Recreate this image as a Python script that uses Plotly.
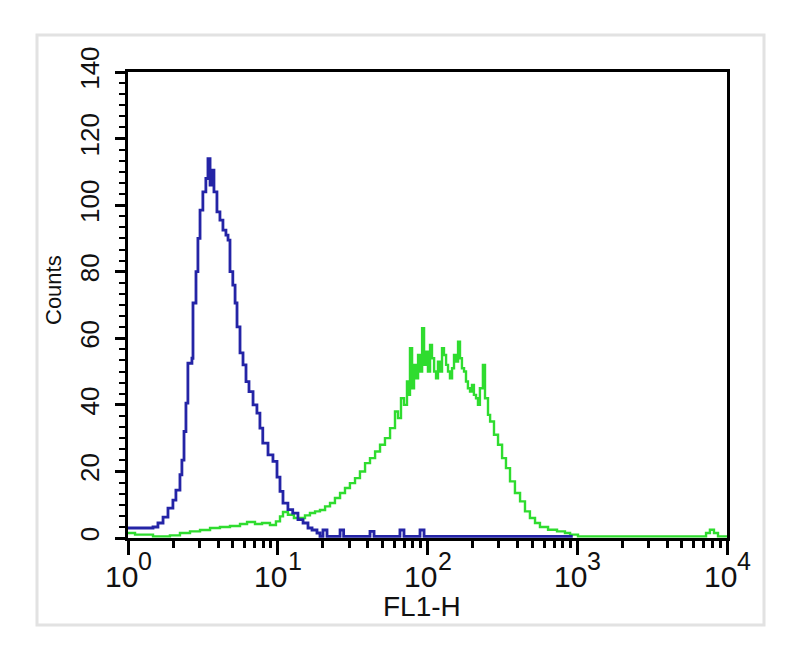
import plotly.graph_objects as go

# ---- data (log10 of FL1-H, counts) ----
blue_log = [0.0, 0.047, 0.10, 0.167, 0.20, 0.234, 0.267, 0.30, 0.32, 0.347, 0.36, 0.374, 0.387,
            0.40, 0.427, 0.434, 0.454, 0.467, 0.481, 0.50, 0.52, 0.534, 0.548, 0.561, 0.574,
            0.594, 0.614, 0.634, 0.654, 0.668, 0.681, 0.70, 0.715, 0.728, 0.748, 0.768, 0.788,
            0.808, 0.835, 0.861, 0.881, 0.90, 0.935, 0.968, 0.995, 1.015, 1.035, 1.068, 1.10,
            1.135, 1.169, 1.202, 1.229, 1.262, 1.282, 1.302, 1.329, 1.416, 1.44, 1.616, 1.643,
            1.816, 1.843, 1.95, 1.977, 2.15, 2.484, 2.97]
blue_counts = [3, 3, 3, 3.3, 4.5, 6.3, 9, 11.4, 14.4, 19, 23.4, 32, 40.5,
               52.5, 54, 70.6, 80, 90, 98.5, 104, 108, 114, 106, 110.5, 104,
               98, 95.5, 92.5, 91, 89.5, 80, 76, 70.6, 63.4, 55.6, 52, 47,
               44, 40, 37.5, 33, 28.5, 25, 23, 18.3, 14, 10.5, 8.5, 7.5,
               5.5, 4.5, 3, 2.4, 1.5, 0.5, 2.4, 0.5, 2.4, 0.5, 2.0, 0.5,
               2.4, 0.5, 2.4, 0.5, 0.5, 0.5, 0.5]

green_log = [0.0, 0.047, 0.167, 0.28, 0.347, 0.414, 0.481, 0.548, 0.614, 0.681, 0.748, 0.795,
             0.848, 0.895, 0.948, 0.988, 1.015, 1.035, 1.068, 1.108, 1.149, 1.182, 1.215, 1.249,
             1.282, 1.316, 1.349, 1.382, 1.416, 1.449, 1.482, 1.516, 1.549, 1.583, 1.616, 1.65,
             1.683, 1.716, 1.75, 1.783, 1.803, 1.823, 1.843, 1.863, 1.877, 1.883, 1.897, 1.91,
             1.923, 1.937, 1.95, 1.964, 1.977, 1.99, 2.003, 2.017, 2.03, 2.044, 2.057, 2.07,
             2.084, 2.097, 2.11, 2.124, 2.137, 2.15, 2.164, 2.177, 2.19, 2.204, 2.217, 2.23,
             2.244, 2.257, 2.27, 2.284, 2.297, 2.31, 2.324, 2.337, 2.35, 2.37, 2.384, 2.404,
             2.418, 2.444, 2.471, 2.498, 2.524, 2.551, 2.584, 2.618, 2.651, 2.684, 2.718, 2.751,
             2.805, 2.865, 2.918, 2.952, 3.005, 3.152, 3.486, 3.82, 3.86, 3.886, 3.913, 3.94, 4.0]
green_counts = [1.5, 1.0, 0.5, 0.8, 1.5, 2, 2.4, 3, 3.3, 3.6, 4.2, 4.8,
                4.2, 4.5, 3.9, 5, 6.5, 7.8, 7, 6, 6, 6.8, 7.5, 8,
                8.4, 9.5, 10.5, 12, 13.5, 15, 16.5, 18, 20, 22.5, 24, 26,
                28, 30, 33, 38, 36, 42, 40, 47, 43, 57, 45, 52,
                48, 55, 50, 63, 52, 56, 50, 58, 54, 50, 48, 53,
                50, 57, 55, 52, 50, 48, 51, 55, 53, 59, 54, 51,
                50, 47, 45, 44, 46, 43, 42, 40, 45, 52, 42, 37,
                35, 31, 28, 24, 21, 17, 13.5, 11, 8, 6, 4.5, 3.3,
                2.5, 2, 1.5, 1, 0.5, 0.5, 0.5, 0.5, 1.5, 2.5, 1.5, 0.5, 0.5]

y_ticks = [0, 20, 40, 60, 80, 100, 120, 140]
x_decades = [0, 1, 2, 3, 4]
x_base_text = "10"
x_exp_text = ["0", "1", "2", "3", "4"]
x_minor = [m * 10 ** d for d in range(4) for m in range(2, 10)]

fig = go.Figure()
fig.add_trace(go.Scatter(x=[10 ** v for v in green_log], y=green_counts, mode="lines",
                         line=dict(color="#2fdc2f", width=2.4, shape="hv"), showlegend=False))
fig.add_trace(go.Scatter(x=[10 ** v for v in blue_log], y=blue_counts, mode="lines",
                         line=dict(color="#2424a6", width=2.8, shape="hv"), showlegend=False))

font_family = "Liberation Sans, Arial, sans-serif"
PW, PH = 599, 466  # plot area size in px

annotations = [
    dict(text="Counts", x=(53 - 128) / PW, y=(538 - 290) / PH, xref="paper", yref="paper",
         xanchor="center", yanchor="middle", textangle=-90, showarrow=False,
         font=dict(size=22, color="#111111")),
    dict(text="FL1-H", x=(422 - 128) / PW, y=(538 - 606) / PH, xref="paper", yref="paper",
         xanchor="center", yanchor="middle", showarrow=False, font=dict(size=28, color="#111111")),
]
for d, e in zip(x_decades, x_exp_text):
    annotations.append(dict(text=x_base_text, x=d, xref="x", y=(538 - 576) / PH, yref="paper",
                            xanchor="center", yanchor="middle", xshift=-7, showarrow=False,
                            font=dict(size=30, color="#111111")))
    annotations.append(dict(text=e, x=d, xref="x", y=(538 - 561) / PH, yref="paper",
                            xanchor="center", yanchor="middle", xshift=17, showarrow=False,
                            font=dict(size=25, color="#111111")))

fig.update_layout(
    width=800, height=656,
    margin=dict(l=120, r=81, t=64, b=126),
    paper_bgcolor="white", plot_bgcolor="white",
    font=dict(family=font_family, color="#111111"),
    xaxis=dict(type="log", range=[0, 4], tickmode="array", tickvals=[10 ** d for d in x_decades],
               showticklabels=False,
               ticks="outside", ticklen=14, tickwidth=2.5, tickcolor="black",
               showline=True, linecolor="black", linewidth=2.5, mirror=True,
               showgrid=False, zeroline=False,
               minor=dict(tickmode="array", tickvals=x_minor, ticks="outside", ticklen=7,
                          tickwidth=2.5, tickcolor="black", showgrid=False)),
    yaxis=dict(range=[0, 140], tickmode="array", tickvals=y_ticks, tickangle=-90,
               ticks="outside", ticklen=10, tickwidth=2.5, tickcolor="black",
               showline=True, linecolor="black", linewidth=2.5, mirror=True,
               showgrid=False, zeroline=False, tickfont=dict(size=26), ticklabelstandoff=6,
               minor=dict(dtick=10 / 3, ticks="outside", ticklen=6, tickwidth=2,
                          tickcolor="black", showgrid=False)),
    annotations=annotations,
    shapes=[
        dict(type="rect", xref="paper", yref="paper",
             x0=(37 - 128) / PW, x1=(764 - 128) / PW,
             y0=(538 - 625) / PH, y1=(538 - 35) / PH,
             line=dict(color="#e2e2e2", width=3), fillcolor="rgba(0,0,0,0)", layer="below"),
    ],
)

fig.write_html("out.html")
